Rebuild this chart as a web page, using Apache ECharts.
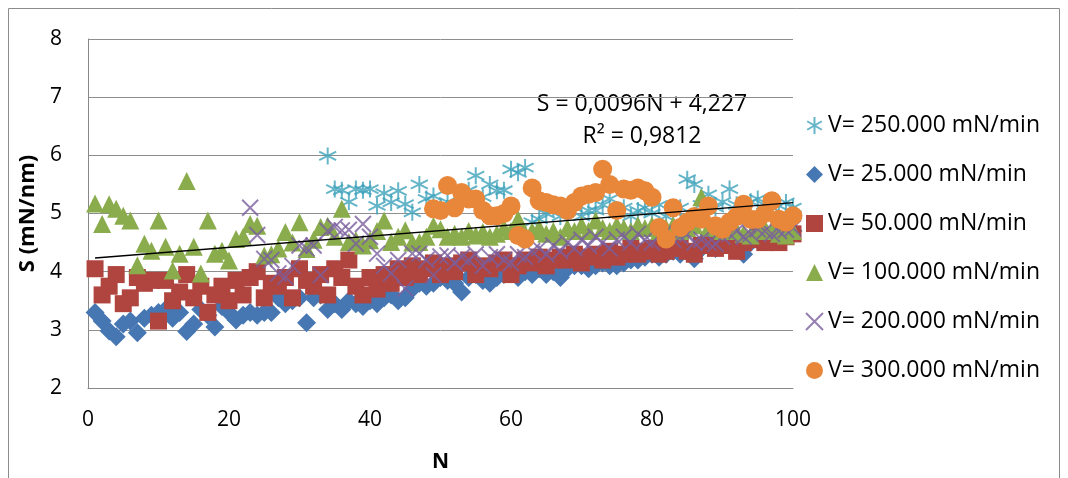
<!DOCTYPE html>
<html><head><meta charset="utf-8">
<script src="https://cdn.jsdelivr.net/npm/echarts@6/dist/echarts.min.js"></script>
<style>html,body{margin:0;padding:0;background:#fff}#c{width:1068px;height:478px}</style>
</head><body><div id="c"></div>
<script>
// ---- data ----
const legendNames = ['V= 250.000 mN/min','V= 25.000 mN/min','V= 50.000 mN/min','V= 100.000 mN/min','V= 200.000 mN/min','V= 300.000 mN/min'];
const xTicks = [0, 20, 40, 60, 80, 100];
const yTicks = [2, 3, 4, 5, 6, 7, 8];

const v250Start = 34;
const v250 = [5.99,5.42,5.40,5.20,5.42,5.40,5.42,5.13,5.35,5.19,5.39,5.16,5.02,5.50,5.25,5.30,5.10,5.20,5.15,5.30,5.40,5.65,5.28,5.50,5.39,5.40,5.76,5.70,5.79,4.85,4.90,5.00,5.10,4.95,5.05,5.10,4.95,5.05,5.05,5.15,5.25,5.00,5.10,4.95,5.05,5.10,5.00,5.15,4.95,5.05,5.10,5.59,5.50,5.15,5.33,5.10,5.20,5.42,5.15,5.10,5.20,5.25,5.15,5.10,5.13,5.19,5.10];

const v25Start = 1;
const v25 = [3.30,3.15,2.98,2.88,3.10,3.15,2.95,3.20,3.25,3.30,3.35,3.20,3.30,2.97,3.10,3.35,3.25,3.05,3.40,3.30,3.17,3.25,3.30,3.25,3.30,3.30,3.55,3.45,3.50,3.55,3.12,3.55,3.60,3.35,3.45,3.35,3.50,3.45,3.40,3.50,3.45,3.55,3.60,3.50,3.55,3.70,3.80,3.75,3.80,3.90,3.85,3.80,3.65,3.90,3.95,3.85,3.80,3.90,3.95,4.00,3.90,4.00,3.95,4.05,3.95,4.00,3.90,4.05,4.10,4.10,4.05,4.10,4.15,4.10,4.10,4.15,4.20,4.20,4.25,4.30,4.25,4.30,4.35,4.30,4.35,4.22,4.40,4.45,4.40,4.50,4.45,4.50,4.30,4.50,4.55,4.60,4.60,4.65,4.60,4.70];

const v50Start = 1;
const v50 = [4.05,3.60,3.75,3.95,3.45,3.55,3.90,3.80,3.85,3.15,3.85,3.50,3.65,3.95,3.55,3.75,3.30,3.60,3.75,3.50,3.85,3.60,3.90,4.00,3.55,3.80,3.75,3.90,3.55,4.05,3.85,3.75,3.95,3.60,4.05,3.90,4.20,3.75,3.60,3.90,3.70,3.95,3.80,4.05,3.90,4.10,3.95,4.05,4.15,3.95,4.10,4.00,4.15,4.20,3.95,4.10,4.05,4.15,4.20,3.95,4.10,4.20,4.15,4.25,4.10,4.20,4.25,4.20,4.30,4.15,4.25,4.30,4.20,4.35,4.25,4.30,4.40,4.30,4.35,4.40,4.30,4.35,4.40,4.45,4.35,4.30,4.45,4.50,4.40,4.45,4.55,4.35,4.50,4.55,4.60,4.50,4.55,4.50,4.60,4.65];

const v100Start = 1;
const v100 = [5.17,4.82,5.16,5.08,4.96,4.88,4.11,4.48,4.36,4.88,4.43,4.02,4.31,5.56,4.43,3.97,4.88,4.31,4.36,4.19,4.56,4.60,4.82,4.79,4.28,4.30,4.40,4.68,4.50,4.85,4.39,4.55,4.77,4.79,4.60,5.08,4.51,4.54,4.45,4.54,4.70,4.88,4.51,4.60,4.71,4.50,4.51,4.60,4.79,4.73,4.60,4.65,4.60,4.70,4.62,4.68,4.60,4.65,4.75,4.70,4.90,4.65,4.70,4.75,4.65,4.70,4.60,4.75,4.70,4.80,4.70,4.88,4.75,4.70,4.80,4.75,4.70,4.80,4.75,4.80,4.70,4.75,4.80,4.70,4.75,4.80,5.28,4.75,4.80,4.70,4.75,4.70,4.65,4.62,4.70,4.75,4.70,4.65,4.62,4.70];

const v200Start = 23;
const v200 = [5.10,4.63,4.22,4.20,3.97,3.91,4.10,4.45,4.40,4.45,3.94,4.70,4.77,4.71,4.72,4.48,4.82,4.60,4.31,4.10,3.97,4.20,3.71,4.31,4.31,4.20,3.94,4.26,4.28,4.15,4.25,4.20,4.30,4.10,4.25,4.30,4.20,4.15,4.30,4.25,4.35,4.40,4.30,4.45,4.35,4.50,4.40,4.55,4.45,4.60,4.50,4.40,4.55,4.60,4.50,4.65,4.55,4.50,4.60,4.70,4.55,4.60,4.65,4.50,4.55,4.50,4.48,4.60,4.65,4.70,4.60,4.65,4.73,4.70,4.65,4.70,4.72,4.75];

const v300Start = 49;
const v300 = [5.08,5.05,5.48,5.10,5.36,5.25,5.25,5.05,4.96,4.96,5.00,5.13,4.62,4.56,5.44,5.22,5.19,5.15,5.13,5.05,5.19,5.30,5.33,5.36,5.76,5.50,5.05,5.42,5.40,5.44,5.39,5.28,4.76,4.56,5.10,4.76,4.85,4.95,4.90,5.13,4.79,4.73,4.85,4.95,5.16,4.90,4.90,5.00,5.22,4.90,4.85,4.96];

const trendN = [1, 100];
const trendS = [4.237, 5.187];
const trendText1 = 'S = 0,0096N + 4,227';
const trendText2 = 'R² = 0,9812';

// ---- build ----
const toPts = (start, vals) => vals.map((v, i) => [start + i, v]);
const FONT = 'Open Sans';
const colors = ['#3fa3bb', '#4677b2', '#b0443f', '#8aac4d', '#7b5f9d', '#e8873a'];
const symX = 'path://M0,0L10,10M10,0L0,10';
const symStar = 'path://M5,0L5,10M0.7,2.5L9.3,7.5M9.3,2.5L0.7,7.5';

const defs = [
  {start: v250Start, vals: v250, symbol: symStar, size: 17, stroke: true},
  {start: v25Start, vals: v25, symbol: 'diamond', size: 19},
  {start: v50Start, vals: v50, symbol: 'rect', size: 17},
  {start: v100Start, vals: v100, symbol: 'triangle', size: 18},
  {start: v200Start, vals: v200, symbol: symX, size: 16, stroke: true},
  {start: v300Start, vals: v300, symbol: 'circle', size: 19},
];

const series = defs.map((d, k) => ({
  name: legendNames[k],
  type: 'scatter',
  data: toPts(d.start, d.vals),
  symbol: d.symbol,
  symbolSize: d.size,
  z: 2 + k,
  itemStyle: d.stroke
    ? {color: 'rgba(0,0,0,0)', borderColor: colors[k], borderWidth: 2}
    : {color: colors[k], opacity: 1},
  emphasis: {disabled: true}
}));

series.push({
  name: 'trend',
  type: 'line',
  data: trendN.map((n, i) => [n, trendS[i]]),
  symbol: 'none',
  z: 20,
  lineStyle: {color: '#000', width: 1.5},
  silent: true
});

const chart = echarts.init(document.getElementById('c'), null, {renderer: 'canvas'});
chart.setOption({
  animation: false,
  backgroundColor: '#fff',
  color: colors,
  grid: {left: 88, right: 275, top: 39, bottom: 88, containLabel: false},
  xAxis: {
    type: 'value', min: xTicks[0], max: xTicks[xTicks.length - 1], interval: 20,
    name: 'N', nameLocation: 'middle', nameGap: 64,
    nameTextStyle: {fontFamily: FONT, fontSize: 21, fontWeight: 'bold', color: '#000'},
    axisLine: {show: true, lineStyle: {color: '#888', width: 1}},
    axisTick: {show: false},
    axisLabel: {fontFamily: FONT, fontSize: 21, color: '#000', margin: 22},
    splitLine: {show: false}
  },
  yAxis: {
    type: 'value', min: yTicks[0], max: yTicks[yTicks.length - 1], interval: 1,
    name: 'S (mN/nm)', nameLocation: 'middle', nameGap: 44, nameRotate: 90,
    nameTextStyle: {fontFamily: FONT, fontSize: 22, fontWeight: 'bold', color: '#000'},
    axisLine: {show: true, lineStyle: {color: '#888', width: 1}},
    axisTick: {show: false},
    axisLabel: {fontFamily: FONT, fontSize: 21, color: '#000', margin: 26},
    splitLine: {show: true, lineStyle: {color: '#8e8e8e', width: 1}}
  },
  legend: {
    data: legendNames.map(n => ({name: n})),
    orient: 'vertical',
    left: 800, top: 109,
    itemWidth: 17, itemHeight: 17, itemGap: 26,
    textStyle: {fontFamily: FONT, fontSize: 23, color: '#000', lineHeight: 20},
    selectedMode: false
  },
  graphic: [
    {type: 'rect', silent: true, shape: {x: 8.5, y: 8.5, width: 1051, height: 480},
     style: {fill: 'none', stroke: '#8c8c8c', lineWidth: 1}, z: -1},
    {type: 'text', x: 642, y: 104, silent: true,
     style: {text: trendText1, fontFamily: FONT, fontSize: 23, fill: '#000', align: 'center', verticalAlign: 'middle'}},
    {type: 'text', x: 642, y: 136, silent: true,
     style: {text: trendText2, fontFamily: FONT, fontSize: 23, fill: '#000', align: 'center', verticalAlign: 'middle'}}
  ],
  series: series
});
</script></body></html>
